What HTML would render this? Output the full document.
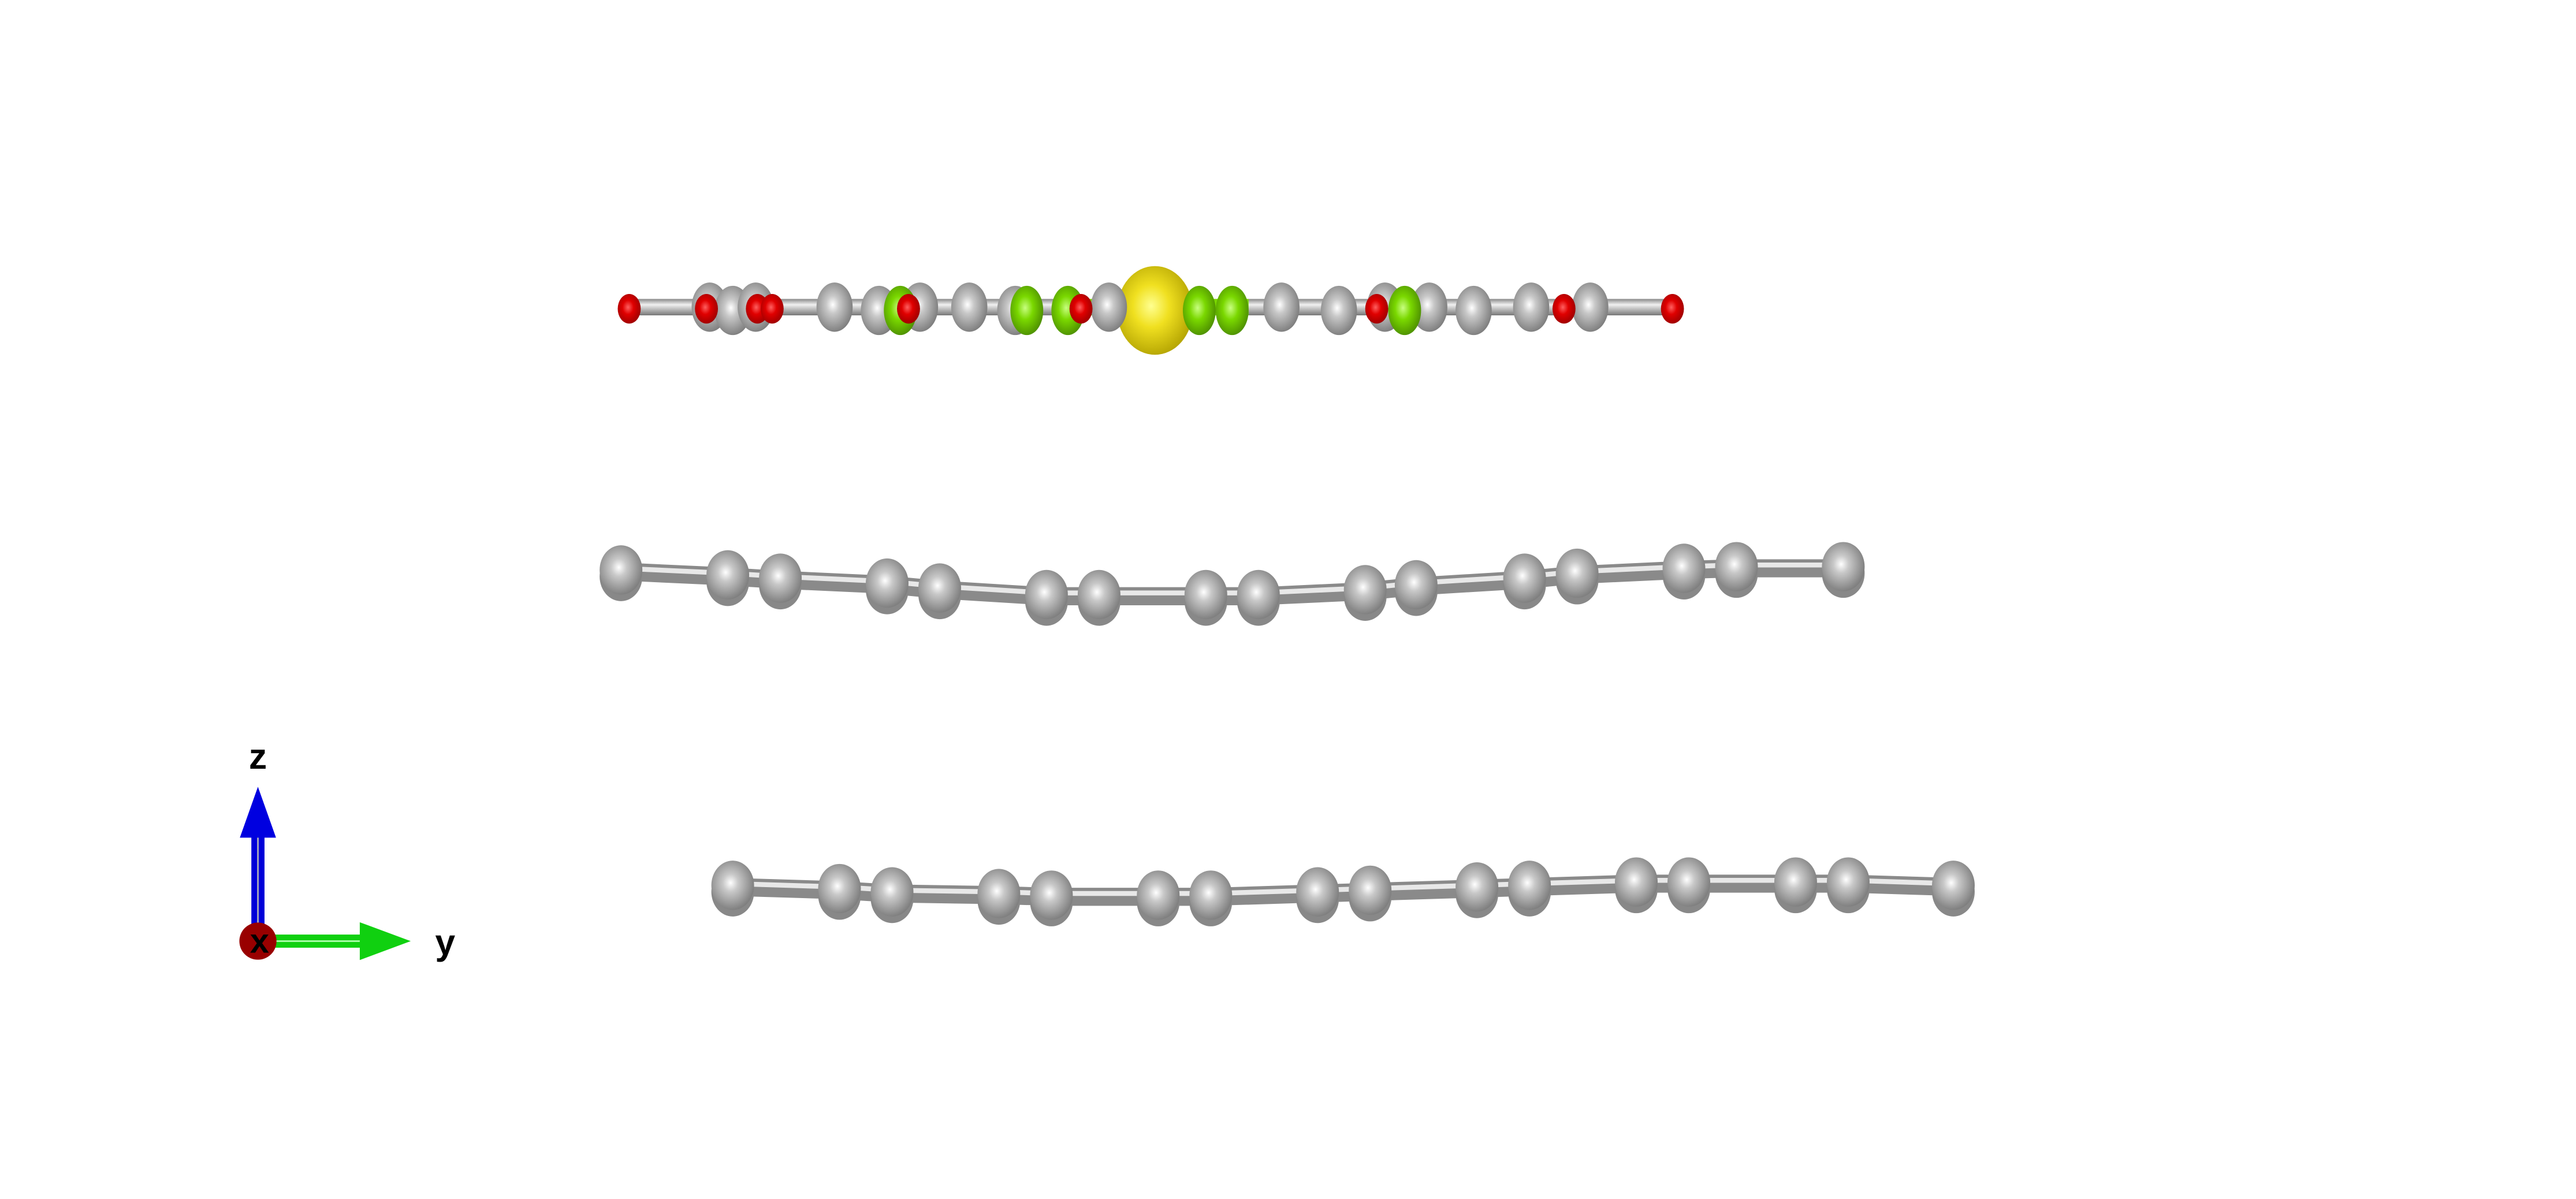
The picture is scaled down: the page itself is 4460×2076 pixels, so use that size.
<!DOCTYPE html>
<html><head><meta charset="utf-8"><style>
html,body{margin:0;padding:0;background:#fff;width:4460px;height:2076px;overflow:hidden}
svg{display:block}
text{font-family:"Liberation Sans",sans-serif;font-weight:bold}
</style></head><body>
<svg id="scene" width="4460" height="2076" viewBox="0 0 1568 730" preserveAspectRatio="none" xmlns="http://www.w3.org/2000/svg">
<defs>
<radialGradient id="gGrey" cx="0.45" cy="0.45" r="0.6"><stop offset="0" stop-color="#ffffff"/><stop offset="0.3" stop-color="#c8c8c8"/><stop offset="1" stop-color="#777"/></radialGradient>
<radialGradient id="gRed" cx="0.45" cy="0.45" r="0.6"><stop offset="0" stop-color="#ff6060"/><stop offset="0.4" stop-color="#e00000"/><stop offset="1" stop-color="#900"/></radialGradient>
<radialGradient id="gGreen" cx="0.45" cy="0.45" r="0.6"><stop offset="0" stop-color="#c8ff80"/><stop offset="0.4" stop-color="#7ad800"/><stop offset="1" stop-color="#4a8a00"/></radialGradient>
<radialGradient id="gYellow" cx="0.45" cy="0.45" r="0.6"><stop offset="0" stop-color="#ffff90"/><stop offset="0.4" stop-color="#f0e020"/><stop offset="1" stop-color="#b0a000"/></radialGradient>
<linearGradient id="gBond" x1="0" y1="0" x2="0" y2="1"><stop offset="0" stop-color="#888"/><stop offset="0.35" stop-color="#f0f0f0"/><stop offset="1" stop-color="#777"/></linearGradient>
</defs>
<g id="layers"></g>
<g id="axes">
  <rect x="153" y="505" width="8" height="68" fill="#0000d8"/>
  <rect x="156.5" y="505" width="1" height="64" fill="#aab"/>
  <polygon points="157,479 146,510 168,510" fill="#0000e0"/>
  <rect x="160" y="569" width="60" height="8" fill="#10d010"/>
  <rect x="160" y="572.5" width="60" height="1" fill="#afa"/>
  <polygon points="219,561.5 250,573 219,584.5" fill="#10d010"/>
  <circle cx="157" cy="573" r="11.3" fill="#900"/>
  <text x="158" y="580" font-size="21" text-anchor="middle" fill="#000">x</text>
  <text x="157" y="468" font-size="22" text-anchor="middle" fill="#000">z</text>
  <text x="271" y="581" font-size="22" text-anchor="middle" fill="#000">y</text>
</g>
</svg>
<script>
// middle graphene layer
const midX=[378,443,475,540,572,637,669,734,766,831,862,928,960,1025,1057,1122];
const midY=[347,350,352,355,358,362,362,362,362,359,356,352,349,346,345,345];
// bottom graphene layer
const botX=[446,511,543,608,640,705,737,802,834,899,931,996,1028,1093,1125,1189];
const botY=[539,541,543,544,545,545,545,543,542,540,539,537,537,537,537,539];
// top molecule
const topGreyX=[432,446,460,508,535,560,590,618,675,780,815,843,870,897,932,968];
const topRedX=[383,430,461,470,553,658,838,952,1018];
const topGreenX=[548,625,650,730,750,855];
const topY=187;
const yellowX=703;

const ns='http://www.w3.org/2000/svg';
const layers=document.getElementById('layers');
function mk(tag,attrs,parent){const e=document.createElementNS(ns,tag);for(const k in attrs)e.setAttribute(k,attrs[k]);parent.appendChild(e);return e;}

function chain(xs,ys,name,rx,ry){
  const g=mk('g',{},layers);
  
  
  for(let i=0;i<xs.length-1;i++){
    const b=mk('line',{x1:xs[i],y1:ys[i]+1,x2:xs[i+1],y2:ys[i+1]+1,stroke:'#8a8a8a','stroke-width':11},g);
    
    
    mk('line',{x1:xs[i],y1:ys[i]-1,x2:xs[i+1],y2:ys[i+1]-1,stroke:'#e8e8e8','stroke-width':3},g);
  }
  for(let i=0;i<xs.length;i++){
    mk('ellipse',{cx:xs[i],cy:ys[i]+4,rx:rx,ry:ry,fill:'#888'},g);
    const c=mk('ellipse',{cx:xs[i],cy:ys[i],rx:rx,ry:ry,fill:'url(#gGrey)'},g);
    
    
  }
}
chain(midX,midY,'middle-graphene-layer',13,15);
chain(botX,botY,'bottom-graphene-layer',13,15);

const tg=mk('g',{},layers);


mk('rect',{x:383,y:topY-5,width:635,height:10,fill:'url(#gBond)'},tg);
mk('rect',{x:650,y:topY-5,width:110,height:10,fill:'#7ad800'},tg);
const yl=mk('ellipse',{cx:yellowX,cy:topY+2,rx:23,ry:27,fill:'url(#gYellow)'},tg);


topGreyX.forEach((x,i)=>{
  const c=mk('ellipse',{cx:x,cy:topY+(i%3===1?2:0),rx:11,ry:15,fill:'url(#gGrey)'},tg);
  
  
});
topGreenX.forEach(x=>{
  const c=mk('ellipse',{cx:x,cy:topY+2,rx:10,ry:15,fill:'url(#gGreen)'},tg);
  
  
});
topRedX.forEach(x=>{
  const c=mk('ellipse',{cx:x,cy:topY+1,rx:7,ry:9,fill:'url(#gRed)'},tg);
  
  
});
</script>
</body></html>
